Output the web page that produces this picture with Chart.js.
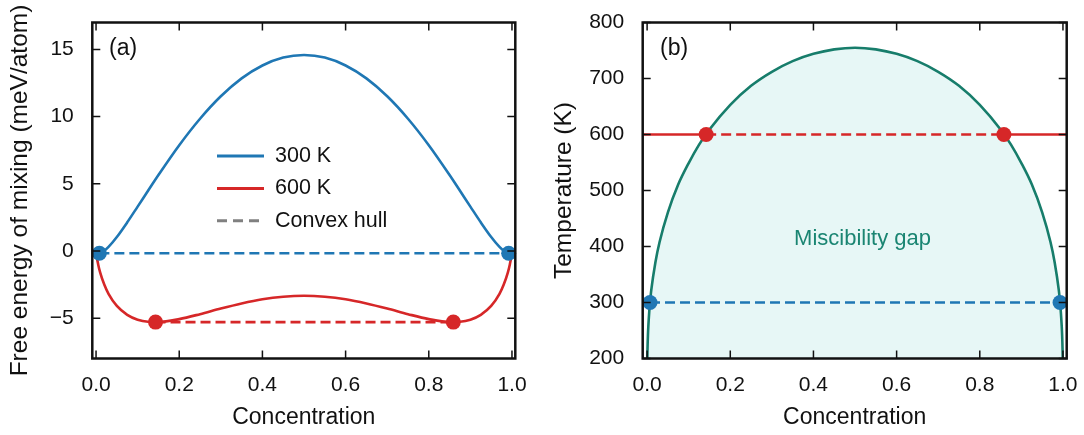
<!DOCTYPE html>
<html><head><meta charset="utf-8">
<script src="https://cdn.jsdelivr.net/npm/chart.js@4.4.1/dist/chart.umd.min.js"></script>
<style>
html,body{margin:0;padding:0;background:#fff;}
#wrap{position:relative;width:1084px;height:435px;overflow:hidden;background:#fff;}
#c1{position:absolute;left:0;top:0;}
#c2{position:absolute;left:540px;top:0;}
</style></head><body>
<div id="wrap"><canvas id="c1" width="540" height="435"></canvas><canvas id="c2" width="544" height="435"></canvas></div>
<script>
// ---------- Panel (a): free energy of mixing ----------
const concentration = [0, 0.002, 0.005, 0.01, 0.02, 0.03, 0.05, 0.075, 0.1, 0.125, 0.15, 0.2, 0.25, 0.3, 0.35, 0.4, 0.45, 0.5,
  0.55, 0.6, 0.65, 0.7, 0.75, 0.8, 0.85, 0.875, 0.9, 0.925, 0.95, 0.97, 0.98, 0.99, 0.995, 0.998, 1];
const energy300K = [0, -0.11, -0.17, -0.16, 0.02, 0.30, 1.04, 2.13, 3.30, 4.48, 5.65, 7.87, 9.84, 11.51, 12.84, 13.80, 14.39, 14.58,
  14.39, 13.80, 12.84, 11.51, 9.84, 7.87, 5.65, 4.48, 3.30, 2.13, 1.04, 0.30, 0.02, -0.16, -0.17, -0.11, 0];
const energy600K = [0, -0.49, -0.98, -1.61, -2.52, -3.19, -4.09, -4.75, -5.11, -5.26, -5.28, -5.07, -4.70, -4.28, -3.90, -3.59, -3.40, -3.33,
  -3.40, -3.59, -3.90, -4.28, -4.70, -5.07, -5.28, -5.26, -5.11, -4.75, -4.09, -3.19, -2.52, -1.61, -0.98, -0.49, 0];
const hull300X = [0.008, 0.992];
const hull300Y = [-0.17, -0.17];
const hull600X = [0.143, 0.859];
const hull600Y = [-5.29, -5.29];

// ---------- Panel (b): phase diagram ----------
const binodalX = [0.0005, 0.001, 0.002, 0.003, 0.005, 0.007, 0.01, 0.02, 0.03, 0.05, 0.075, 0.1, 0.125, 0.15, 0.2, 0.25, 0.3, 0.35, 0.4, 0.45, 0.5,
  0.55, 0.6, 0.65, 0.7, 0.75, 0.8, 0.85, 0.875, 0.9, 0.925, 0.95, 0.97, 0.98, 0.99, 0.993, 0.995, 0.997, 0.998, 0.999, 0.9995];
const binodalT = [198, 218, 242, 258, 282, 300, 322, 372, 408, 461, 511, 549, 582, 609, 653, 687, 712, 731, 744, 752, 755,
  752, 744, 731, 712, 687, 653, 609, 582, 549, 511, 461, 408, 372, 322, 300, 282, 258, 242, 218, 198];
const iso600X = [-0.01, 0.142, 0.858, 1.01];
const iso600T = [600, 600, 600, 600];
const iso300X = [0.007, 0.993];
const iso300T = [300, 300];
const dots600X = [0.142, 0.858];
const dots600T = [600, 600];
const dots300X = [0.007, 0.993];
const dots300T = [300, 300];

// ---------- ticks & labels ----------
const xTickValues = [0, 0.2, 0.4, 0.6, 0.8, 1.0];
const xTickLabels = ['0.0', '0.2', '0.4', '0.6', '0.8', '1.0'];
const energyTickValues = [-5, 0, 5, 10, 15];
const energyTickLabels = ['\u22125', '0', '5', '10', '15'];
const tempTickValues = [200, 300, 400, 500, 600, 700, 800];
const tempTickLabels = ['200', '300', '400', '500', '600', '700', '800'];
const legendLabels = ['300 K', '600 K', 'Convex hull'];

const BLUE = '#1f77b4', RED = '#d62728', GREY = '#808080', TEAL = '#177d6b', FILL = '#e7f7f6';
const FONT = "'Liberation Sans', Arial, Helvetica, sans-serif";
Chart.defaults.font.family = FONT;
Chart.defaults.color = '#111';

const pts = (xs, ys) => xs.map((x, i) => ({x: x, y: ys[i]}));

const framePlugin = {
  id: 'frame',
  afterDraw(chart) {
    const {ctx, chartArea: a, scales} = chart;
    ctx.save();
    ctx.strokeStyle = '#111';
    ctx.lineWidth = 1.5;
    const tl = 8;
    ctx.beginPath();
    scales.x.ticks.forEach(t => {
      const p = scales.x.getPixelForValue(t.value);
      ctx.moveTo(p, a.bottom); ctx.lineTo(p, a.bottom - tl);
      ctx.moveTo(p, a.top); ctx.lineTo(p, a.top + tl);
    });
    scales.y.ticks.forEach(t => {
      const p = scales.y.getPixelForValue(t.value);
      ctx.moveTo(a.left, p); ctx.lineTo(a.left + tl, p);
      ctx.moveTo(a.right, p); ctx.lineTo(a.right - tl, p);
    });
    ctx.stroke();
    ctx.lineWidth = 2.5;
    ctx.strokeRect(a.left, a.top, a.right - a.left, a.bottom - a.top);
    ctx.restore();
  }
};

const textPlugin = {
  id: 'texts',
  afterDraw(chart, args, opts) {
    const {ctx, scales} = chart;
    ctx.save();
    (opts.items || []).forEach(it => {
      ctx.font = it.size + 'px ' + FONT;
      ctx.fillStyle = it.color;
      ctx.textAlign = 'center';
      ctx.textBaseline = 'middle';
      ctx.fillText(it.text, scales.x.getPixelForValue(it.x), scales.y.getPixelForValue(it.y));
    });
    ctx.restore();
  }
};

const legendPlugin = {
  id: 'innerLegend',
  afterDraw(chart, args, opts) {
    if (!opts.show) return;
    const {ctx, chartArea: a} = chart;
    const colors = [BLUE, RED, GREY];
    const dashes = [[], [], [10, 6]];
    ctx.save();
    legendLabels.forEach((lab, i) => {
      const y = a.top + 133.5 + i * 32.4;
      const x0 = a.left + 124.7;
      ctx.strokeStyle = colors[i];
      ctx.lineWidth = 3;
      ctx.setLineDash(dashes[i]);
      ctx.beginPath(); ctx.moveTo(x0, y); ctx.lineTo(x0 + 47, y); ctx.stroke();
      ctx.setLineDash([]);
      ctx.fillStyle = '#111';
      ctx.font = '21.5px ' + FONT;
      ctx.textAlign = 'left';
      ctx.textBaseline = 'middle';
      ctx.fillText(lab, x0 + 58, y);
    });
    ctx.restore();
  }
};

// invisible tick marks give the label offset without inflating layout padding
const hiddenGrid = len => ({display: true, drawOnChartArea: false, drawTicks: true, tickLength: len, tickColor: 'rgba(0,0,0,0)'});

function xScale(min, max) {
  return {
    type: 'linear', min: min, max: max,
    afterBuildTicks: s => { s.ticks = xTickValues.map(v => ({value: v})); },
    ticks: {callback: v => xTickLabels[xTickValues.indexOf(v)], padding: 0, font: {size: 21}, maxRotation: 0, autoSkip: false},
    grid: hiddenGrid(14), border: {display: false},
    title: {display: true, text: 'Concentration', font: {size: 23}, padding: {top: 0, bottom: 3.7}},
    afterFit: s => { s.height = 76.5; }
  };
}
function yScale(min, max, values, labels, title, titlePad, width) {
  return {
    type: 'linear', min: min, max: max,
    afterBuildTicks: s => { s.ticks = values.map(v => ({value: v})); },
    ticks: {callback: v => labels[values.indexOf(v)], padding: 0, font: {size: 21}},
    grid: hiddenGrid(18.5), border: {display: false},
    title: {display: true, text: title, font: {size: 24.5}, padding: {top: titlePad, bottom: 0}},
    afterFit: s => { s.width = width; }
  };
}

new Chart(document.getElementById('c1'), {
  type: 'scatter',
  data: {datasets: [
    {label: 'hull300dots', data: pts(hull300X, hull300Y), showLine: false, pointRadius: 7.5, pointBackgroundColor: BLUE, pointBorderWidth: 0, order: 0, clip: false},
    {label: 'hull600dots', data: pts(hull600X, hull600Y), showLine: false, pointRadius: 7.5, pointBackgroundColor: RED, pointBorderWidth: 0, order: 0, clip: false},
    {label: 'hull300', data: pts(hull300X, hull300Y), showLine: true, borderColor: BLUE, borderWidth: 2.6, borderDash: [10, 5], pointRadius: 0, order: 1},
    {label: 'hull600', data: pts(hull600X, hull600Y), showLine: true, borderColor: RED, borderWidth: 2.6, borderDash: [10, 5], pointRadius: 0, order: 1},
    {label: '300 K', data: pts(concentration, energy300K), showLine: true, borderColor: BLUE, borderWidth: 2.6, pointRadius: 0, cubicInterpolationMode: 'monotone', order: 2},
    {label: '600 K', data: pts(concentration, energy600K), showLine: true, borderColor: RED, borderWidth: 2.6, pointRadius: 0, cubicInterpolationMode: 'monotone', order: 2}
  ]},
  options: {
    responsive: false, animation: false, events: [],
    layout: {padding: {top: 22.5, right: 24.7, left: 0, bottom: 0}},
    plugins: {legend: {display: false}, tooltip: {enabled: false},
      innerLegend: {show: true},
      texts: {items: [{text: '(a)', x: 0.065, y: 15.05, size: 23, color: '#111'}]}},
    scales: {
      x: xScale(-0.009, 1.008),
      y: yScale(-8, 17, energyTickValues, energyTickLabels, 'Free energy of mixing (meV/atom)', 5.3, 92.3)
    }
  },
  plugins: [framePlugin, legendPlugin, textPlugin]
});

new Chart(document.getElementById('c2'), {
  type: 'scatter',
  data: {datasets: [
    {label: 'dots600', data: pts(dots600X, dots600T), showLine: false, pointRadius: 7.5, pointBackgroundColor: RED, pointBorderWidth: 0, order: 0, clip: false},
    {label: 'dots300', data: pts(dots300X, dots300T), showLine: false, pointRadius: 7.5, pointBackgroundColor: BLUE, pointBorderWidth: 0, order: 0, clip: false},
    {label: '600 K', data: pts(iso600X, iso600T), showLine: true, borderColor: RED, borderWidth: 2.6, pointRadius: 0, order: 1,
      segment: {borderDash: c => c.p0DataIndex === 1 ? [10, 5] : undefined}},
    {label: '300 K', data: pts(iso300X, iso300T), showLine: true, borderColor: BLUE, borderWidth: 2.6, borderDash: [10, 5], pointRadius: 0, order: 1},
    {label: 'binodal', data: pts(binodalX, binodalT), showLine: true, borderColor: TEAL, borderWidth: 2.6, pointRadius: 0,
      cubicInterpolationMode: 'monotone', fill: 'start', backgroundColor: FILL, order: 3}
  ]},
  options: {
    responsive: false, animation: false, events: [],
    layout: {padding: {top: 22.5, right: 17.3, left: 0, bottom: 0}},
    plugins: {legend: {display: false}, tooltip: {enabled: false}, filler: {propagate: false},
      innerLegend: {show: false},
      texts: {items: [
        {text: '(b)', x: 0.065, y: 753, size: 23, color: '#111'},
        {text: 'Miscibility gap', x: 0.518, y: 413, size: 22, color: '#1a8572'}
      ]}},
    scales: {
      x: xScale(-0.0106, 1.009),
      y: yScale(200, 800, tempTickValues, tempTickLabels, 'Temperature (K)', 9.3, 102.7)
    }
  },
  plugins: [framePlugin, legendPlugin, textPlugin]
});
</script>
</body></html>
